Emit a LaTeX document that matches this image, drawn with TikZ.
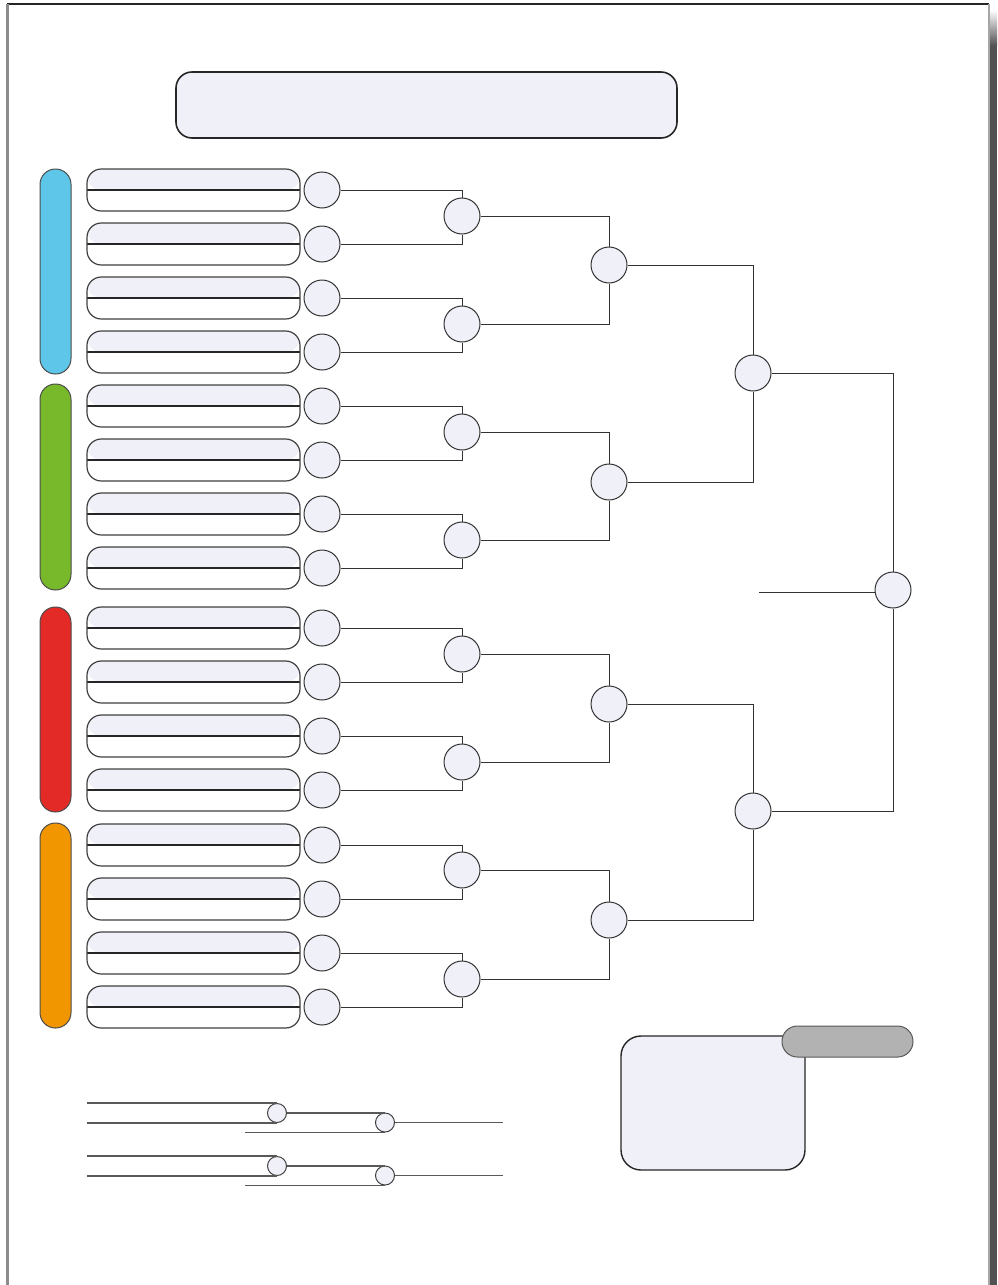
\documentclass[tikz,border=0pt]{standalone}
\usetikzlibrary{calc}
\definecolor{lav}{RGB}{239,240,248}
\definecolor{barblue}{RGB}{94,198,232}
\definecolor{bargreen}{RGB}{120,185,43}
\definecolor{barred}{RGB}{228,42,39}
\definecolor{barorange}{RGB}{242,150,0}
\definecolor{pillgray}{RGB}{178,178,178}
\begin{document}
\begin{tikzpicture}[x=0.5pt,y=-0.5pt,
  roundc/.style={circle,draw=black!80,fill=lav,minimum size=18pt,inner sep=0pt,line width=0.5pt},
  tinyc/.style={circle,draw=black!75,fill=lav,minimum size=9.5pt,inner sep=0pt,line width=0.5pt},
  wire/.style={draw=black!80,line width=0.5pt},
  thinwire/.style={draw=black!65,line width=0.6pt},
  slotbox/.style={draw=black!75,line width=0.6pt,rounded corners=7.2pt,minimum width=106.5pt,minimum height=21pt,inner sep=0pt,fill=white,
    path picture={\fill[lav] (path picture bounding box.north west) rectangle (path picture bounding box.east);
      \draw[black!85,line width=0.6pt] (path picture bounding box.west) -- (path picture bounding box.east);}},
  groupbar/.style={draw=black!70,line width=0.5pt,rounded corners=7.7pt,minimum width=15.5pt,minimum height=102.5pt,inner sep=0pt},
]
\useasboundingbox (0,0) rectangle (997,1285);
% page frame
\draw[black!85,line width=1pt] (7,4) -- (989,4);
\draw[black!45,line width=1.5pt] (7,4) -- (7,1285);
\fill[black!68] (990,45) rectangle (997,1285);
\shade[top color=white,bottom color=black!68] (990,10) rectangle (997,45.5);
\draw[black!35,line width=0.6pt] (989,4) -- (989,1285);

% title
\node[draw=black!85,line width=0.8pt,fill=lav,rounded corners=8pt,minimum width=250.5pt,minimum height=33pt,inner sep=0pt] (title) at (426.5,105) {};

% group bars
\node[groupbar,fill=barblue] (gblue) at (55.5,271.5) {};
\node[groupbar,fill=bargreen,minimum height=103pt] (ggreen) at (55.5,487) {};
\node[groupbar,fill=barred] (gred) at (55.5,709.5) {};
\node[groupbar,fill=barorange] (gorange) at (55.5,925.5) {};

% slots and first-round circles
\foreach \i/\y in {1/190,2/244,3/298,4/352,5/406,6/460,7/514,8/568,9/628,10/682,11/736,12/790,13/845,14/899,15/953,16/1007}{
  \node[slotbox] (s\i) at (193.5,\y) {};
  \node[roundc] (a\i) at (322,\y) {};
}

% second round
\foreach \j/\y in {1/216,2/324,3/432,4/540,5/654,6/762,7/870,8/979}{
  \node[roundc] (b\j) at (462,\y) {};
}
\foreach \j in {1,...,8}{
  \pgfmathtruncatemacro\u{2*\j-1}
  \pgfmathtruncatemacro\v{2*\j}
  \draw[wire] (a\u.east) -| (b\j.north);
  \draw[wire] (a\v.east) -| (b\j.south);
}

% third round
\foreach \k/\y in {1/265,2/482,3/704,4/920}{
  \node[roundc] (c\k) at (609,\y) {};
}
\foreach \k in {1,...,4}{
  \pgfmathtruncatemacro\u{2*\k-1}
  \pgfmathtruncatemacro\v{2*\k}
  \draw[wire] (b\u.east) -| (c\k.north);
  \draw[wire] (b\v.east) -| (c\k.south);
}

% fourth round
\node[roundc] (d1) at (753,373) {};
\node[roundc] (d2) at (753,811) {};
\draw[wire] (c1.east) -| (d1.north);
\draw[wire] (c2.east) -| (d1.south);
\draw[wire] (c3.east) -| (d2.north);
\draw[wire] (c4.east) -| (d2.south);

% final
\node[roundc] (fin) at (893,590) {};
\draw[wire] (d1.east) -| (fin.north);
\draw[wire] (d2.east) -| (fin.south);
\coordinate (finl) at (759,592);
\draw[wire] (finl) -- (finl -| fin.west);

% lower-left small brackets
\node[tinyc] (t1) at (277,1113) {};
\node[tinyc] (t2) at (385,1122.5) {};
\node[tinyc] (t3) at (277,1166) {};
\node[tinyc] (t4) at (385,1175.5) {};
\coordinate (p1) at (87,1103);
\coordinate (p3) at (245,1132);
\coordinate (p4) at (503,1122.5);
\coordinate (q1) at (87,1156);
\coordinate (q3) at (245,1185);
\coordinate (q4) at (503,1175.5);
\draw[thinwire] (p1 |- t1.north) -- (t1.north);
\draw[thinwire] (p1 |- t1.south) -- (t1.south);
\draw[thinwire] (t1.east) -- (t1.east -| t2.north);
\draw[thinwire] (p3 |- t2.south) -- (t2.south);
\draw[thinwire] (t2.east) -- (t2.east -| p4);
\draw[thinwire] (q1 |- t3.north) -- (t3.north);
\draw[thinwire] (q1 |- t3.south) -- (t3.south);
\draw[thinwire] (t3.east) -- (t3.east -| t4.north);
\draw[thinwire] (q3 |- t4.south) -- (t4.south);
\draw[thinwire] (t4.east) -- (t4.east -| q4);

% lower-right box and label pill
\node[draw=black!85,line width=0.7pt,fill=lav,rounded corners=10pt,minimum width=92pt,minimum height=67pt,inner sep=0pt] (note) at (713,1103) {};
\node[draw=black!65,line width=0.5pt,fill=pillgray,rounded corners=7.7pt,minimum width=65.5pt,minimum height=15.5pt,inner sep=0pt] (pill) at (847.5,1041.5) {};
\end{tikzpicture}
\end{document}
